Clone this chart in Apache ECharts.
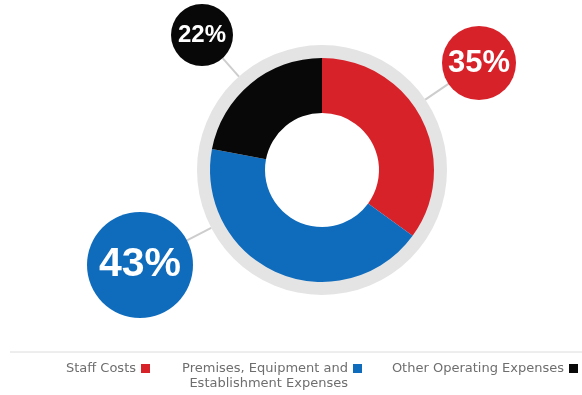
<!DOCTYPE html>
<html>
<head>
<meta charset="utf-8">
<script src="https://cdn.jsdelivr.net/npm/echarts@6/dist/echarts.min.js"></script>
<style>
  html, body { margin: 0; padding: 0; background: #ffffff; }
  #chart { width: 582px; height: 395px; }
</style>
</head>
<body>
<div id="chart"></div>
<script>
// Expense categories and their share of the total (%)
const categories = ['Staff Costs', 'Premises, Equipment and Establishment Expenses', 'Other Operating Expenses'];
const shares = [35, 43, 22];
const colors = ['#d7222a', '#0f6cbd', '#080808'];

// Donut geometry (pixels)
const pieCenter = { x: 322, y: 170 };
const frameRadius = [108, 125];
const ringRadius = [57, 112];

// Bubble callouts: centre point, radius and font size for each category
const bubbles = [
  { x: 479, y: 63, r: 37, font: 31 },
  { x: 140, y: 265, r: 53, font: 41 },
  { x: 202, y: 35, r: 31, font: 24 }
];

// Right offset of each legend entry along the bottom row
const legendRight = [432, 220, 4];

const chart = echarts.init(document.getElementById('chart'), null, { renderer: 'canvas' });

const pieData = categories.map((name, i) => ({
  name: name,
  value: shares[i],
  itemStyle: { color: colors[i] },
  label: {
    formatter: '{v|{c}%}',
    rich: {
      v: {
        fontFamily: 'Liberation Sans',
        fontWeight: 'bold',
        fontSize: bubbles[i].font,
        color: '#ffffff',
        backgroundColor: colors[i],
        width: bubbles[i].r * 2,
        height: bubbles[i].r * 2,
        lineHeight: bubbles[i].r * 2,
        borderRadius: bubbles[i].r,
        align: 'center'
      }
    }
  }
}));

const total = shares.reduce((a, b) => a + b, 0);

// Connector from the bubble's rim toward the donut centre, ending at the grey frame
function connector(b) {
  const dx = pieCenter.x - b.x;
  const dy = pieCenter.y - b.y;
  const d = Math.sqrt(dx * dx + dy * dy);
  const ux = dx / d, uy = dy / d;
  return [
    [b.x + ux * b.r, b.y + uy * b.r],
    [pieCenter.x - ux * frameRadius[1], pieCenter.y - uy * frameRadius[1]]
  ];
}

// One legend block per category, marker to the right of its text
const legends = categories.map((name, i) => ({
  right: legendRight[i],
  top: 346,
  padding: 0,
  align: 'right',
  icon: 'rect',
  itemWidth: 9,
  itemHeight: 9,
  data: [name],
  formatter: function (n) {
    // the long category wraps onto a second line below the marker row
    return n === categories[1] ? ' \nPremises, Equipment and\nEstablishment Expenses' : ' \n' + n + '\n ';
  },
  textStyle: {
    fontFamily: 'DejaVu Sans',
    fontSize: 13,
    lineHeight: 15,
    color: '#6e6e6e'
  }
}));

chart.setOption({
  animation: false,
  backgroundColor: '#ffffff',
  graphic: [{
    type: 'line',
    shape: { x1: 10, y1: 352, x2: 582, y2: 352 },
    style: { stroke: '#dcdcdc', lineWidth: 1 },
    silent: true
  }],
  legend: legends,
  series: [
    {
      // light grey ring framing the donut
      type: 'pie',
      name: 'frame',
      silent: true,
      center: [pieCenter.x, pieCenter.y],
      radius: frameRadius,
      label: { show: false },
      labelLine: { show: false },
      data: [{ name: 'frame', value: total, itemStyle: { color: '#e4e4e4' } }],
      z: 1
    },
    {
      type: 'pie',
      name: 'Expenses',
      center: [pieCenter.x, pieCenter.y],
      radius: ringRadius,
      startAngle: 90,
      clockwise: true,
      avoidLabelOverlap: false,
      label: { show: true, position: 'outside' },
      labelLine: {
        show: true,
        length: 10,
        length2: 0,
        lineStyle: { color: '#cdcdcd', width: 2 }
      },
      labelLayout: function (params) {
        const b = bubbles[params.dataIndex];
        return {
          x: b.x,
          y: b.y,
          align: 'center',
          verticalAlign: 'middle',
          labelLinePoints: connector(b)
        };
      },
      data: pieData,
      z: 2
    }
  ]
});
</script>
</body>
</html>
